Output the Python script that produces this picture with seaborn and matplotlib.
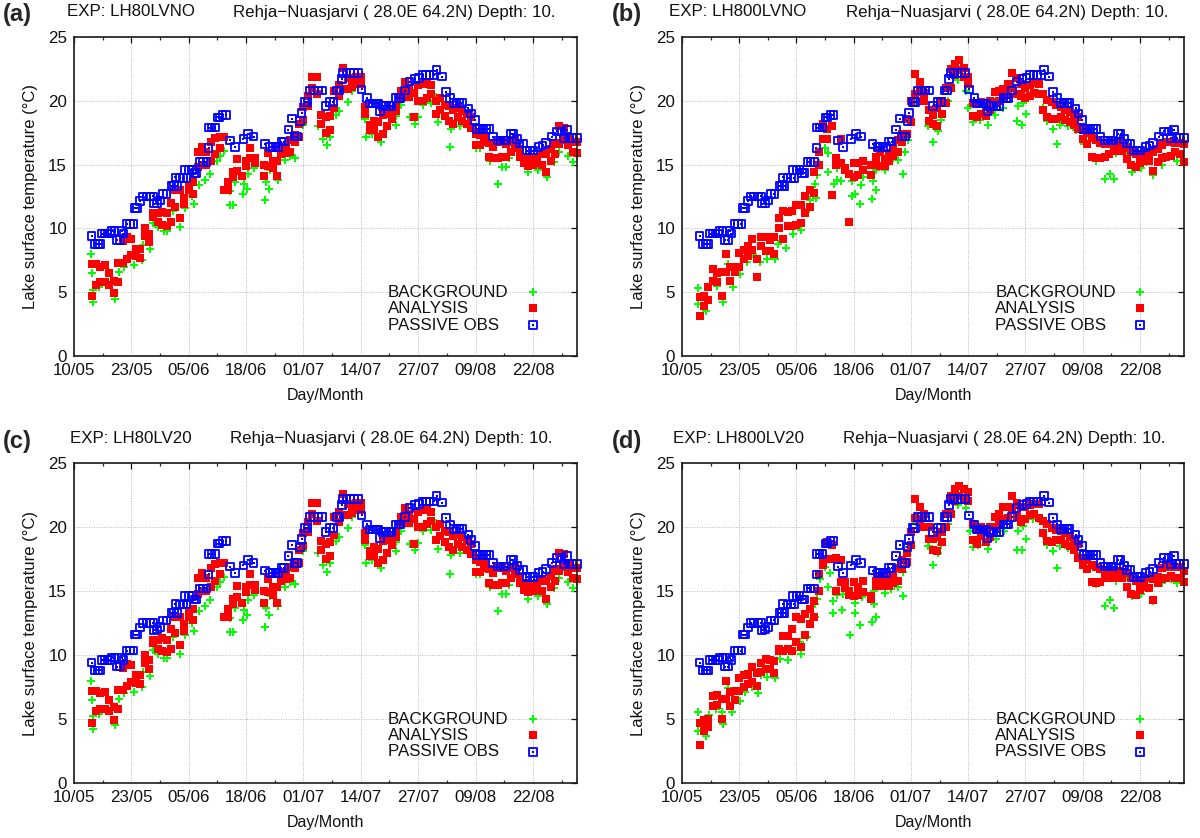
import numpy as np
import pandas as pd
import matplotlib
matplotlib.use("Agg")
import matplotlib.pyplot as plt
import seaborn as sns

nan = float("nan")

# x axis is days since 10/05
tick_labels = ["10/05", "23/05", "05/06", "18/06", "01/07", "14/07", "27/07", "09/08", "22/08"]
days = list(range(4, 115))

# passive observations, same in all panels
obs_days = [4.0, 4.8, 5.4, 5.9, 6.3, 6.9, 7.6, 8.2, 8.5, 9.2, 9.7, 10.4, 10.8, 11.2, 11.9, 12.7, 13.5,
            13.8, 14.3, 15.0, 15.7, 16.4, 17.2, 18.0, 18.1, 18.8, 19.5, 20.2, 21.0, 22.1, 22.7, 23.0, 23.3,
            24.0, 24.8, 25.2, 25.5, 26.0, 26.7, 27.3, 27.8, 28.5, 29.2, 30.0, 30.5, 30.6, 31.2, 31.9, 32.6,
            33.0, 33.7, 34.4, 35.4, 36.5, 38.4, 39.5, 40.7, 43.3, 44.4, 45.0, 45.7, 46.3, 47.0, 47.6, 48.6,
            49.4, 50.0, 50.6, 51.2, 51.6, 52.4, 52.9, 53.5, 54.4, 55.3, 56.2, 57.0, 58.0, 58.8, 59.6, 60.2,
            60.7, 61.0, 61.8, 62.6, 63.4, 64.3, 65.2, 66.4, 67.0, 67.7, 68.4, 69.0, 69.4, 70.0, 70.7, 71.4,
            72.0, 73.0, 73.6, 74.0, 75.0, 76.0, 77.3, 78.2, 79.0, 79.8, 80.6, 81.5, 82.2, 83.4, 84.3, 85.2,
            86.0, 86.7, 87.4, 88.0, 89.4, 90.0, 90.9, 91.3, 92.0, 92.7, 93.4, 94.0, 95.0, 96.0, 96.7, 97.4,
            98.0, 99.0, 99.6, 100.4, 101.0, 101.7, 102.6, 103.3, 104.0, 105.3, 106.2, 107.0, 108.3, 109.5,
            110.5, 111.0, 111.7, 112.3, 113.0, 114.0]
obs_temp = [9.4, 8.8, 8.8, 8.8, 9.6, 9.6, 9.6, 9.6, 9.8, 9.8, 9.1, 9.1, 9.8, 9.6, 10.35, 10.35, 10.35,
            11.6, 11.6, 12.15, 12.5, 12.5, 12.5, 12.5, 11.95, 12.0, 12.2, 12.7, 12.7, 13.3, 13.3, 14.0, 13.3,
            13.95, 13.95, 14.6, 13.95, 14.6, 14.6, 14.35, 14.35, 15.2, 15.2, 15.2, 16.3, 17.9, 17.9, 17.9, 18.7,
            18.7, 18.9, 18.9, 16.9, 16.4, 17.0, 17.4, 17.2, 16.6, 16.4, 16.4, 16.4, 16.4, 16.8, 16.8, 17.75,
            18.6, 17.2, 17.2, 18.4, 19.05, 19.9, 19.9, 20.8, 20.8, 20.8, 20.8, 19.6, 19.9, 19.9, 20.8, 20.8,
            21.7, 22.2, 22.2, 22.2, 22.2, 22.2, 20.9, 20.2, 19.8, 19.8, 19.8, 19.8, 19.15, 19.6, 19.6, 19.6,
            19.6, 20.2, 20.2, 20.2, 20.8, 21.5, 21.7, 21.8, 22.0, 22.0, 22.0, 22.0, 22.4, 21.9, 20.7, 20.2,
            19.85, 19.85, 19.85, 19.85, 19.4, 19.0, 18.5, 17.8, 17.8, 17.8, 17.8, 17.8, 17.2, 16.9, 16.9, 16.9,
            16.9, 17.4, 17.4, 17.0, 16.65, 16.65, 16.1, 16.1, 16.1, 16.4, 16.5, 16.7, 17.2, 17.6,
            17.6, 17.1, 17.75, 17.1, 17.1, 17.1]

# analysis, upper and lower reading per day, LH80 runs (a, c)
ana_lh80_hi = [7.2, 7.2, 7.0, 7.1, 6.5, 5.9, 7.3, 9.0, 9.3, 9.2,
               8.4, 8.4, 10.0, 9.6, 11.2, 11.2, 11.3, 11.2, 12.0, 13.0,
               13.0, 12.4, 13.4, 13.6, 16.0, 16.4, 16.0, 16.8, 17.1, 17.2,
               17.2, 13.6, 14.4, 15.4, 14.1, 15.3, 16.3, 15.5, nan, 15.0,
               15.9, 15.3, 15.3, 16.2, 16.4, 16.9, 17.3, 18.2, 19.5, 20.4,
               21.9, 21.9, 18.9, 18.7, 18.8, 20.8, 21.2, 22.6, 21.8, 21.7,
               21.9, 21.9, 19.5, 18.1, 18.4, 18.3, 18.9, 19.0, 19.2, 19.6,
               20.8, 21.5, 21.0, 20.6, 21.2, 21.3, 21.3, 21.2, 20.0, 20.2,
               19.7, 19.6, 19.3, 19.4, 19.2, 19.0, 18.7, 17.4, 17.3, 17.2,
               16.7, 16.4, 16.8, 16.9, 16.6, 16.8, 16.9, 16.2, 15.6, 15.5,
               15.5, 15.6, 15.8, 15.8, 16.2, 16.7, 18.0, 17.9, 17.2, 16.8, 16.8]
ana_lh80_lo = [4.7, 5.6, 5.8, 5.8, 5.6, 4.9, 5.8, 7.3, 7.6, 7.9,
               7.8, 7.7, 9.4, 8.9, 10.9, 10.5, 10.3, 10.2, 10.5, 11.7,
               10.8, 11.9, 13.0, 12.7, 14.8, 15.0, 15.0, 15.3, 15.8, 16.3,
               13.0, 13.0, 14.0, 14.5, 14.1, 14.9, 15.5, 15.1, nan, 14.1,
               14.9, 14.7, 14.1, 15.8, 15.9, 16.0, 16.8, 17.2, 18.5, 19.6,
               21.0, 20.5, 18.2, 17.5, 17.7, 19.4, 20.4, 20.9, 20.9, 21.1,
               21.3, 21.3, 19.0, 17.7, 17.7, 17.2, 17.4, 18.0, 18.6, 19.2,
               20.3, 20.7, 20.3, 18.7, 20.0, 20.0, 20.2, 20.5, 19.0, 19.3,
               18.8, 18.4, 18.2, 18.7, 18.4, 18.2, 17.9, 16.5, 16.5, 16.8,
               15.6, 15.5, 15.5, 15.6, 15.6, 16.0, 16.3, 15.6, 15.1, 14.9,
               15.0, 15.1, 15.0, 14.4, 15.3, 15.8, 16.6, 16.9, 16.5, 16.0, 15.9]

# analysis, panel b
ana_b_hi = [4.6, 4.7, 5.4, 6.8, 6.5, 6.6, 8.0, 7.0, 7.0, 8.1,
            8.3, 8.6, 9.2, 7.6, 9.3, 9.3, 9.1, 9.3, 10.8, 11.4,
            11.3, 11.4, 11.8, 11.8, 12.5, 13.0, 14.4, 16.0, 18.2, 17.8,
            18.0, 15.5, 17.0, 14.7, 14.3, 15.1, 15.1, 15.3, nan, 15.0,
            15.6, 16.0, 15.4, 15.9, 16.3, 16.9, 17.4, 18.6, 20.0, 22.1,
            21.5, 20.6, 19.3, 18.9, 19.4, 20.0, 21.0, 22.5, 22.9, 23.2,
            22.6, 21.9, 19.8, 19.8, 19.9, 19.5, 20.0, 20.7, 20.8, 20.9,
            21.3, 22.2, 21.8, 21.3, 21.0, 21.2, 21.4, 21.3, 20.5, 20.1,
            19.9, 19.7, 19.5, 19.3, 19.1, 18.9, 18.7, 17.7, 17.5, 17.1,
            16.9, 16.7, 16.6, 16.6, 16.7, 16.7, 16.7, 16.3, 16.0, 15.8,
            15.7, 15.7, 15.9, 16.0, 16.2, 16.5, 16.8, 16.8, 16.7, 16.7, 16.6]
ana_b_lo = [3.1, 3.9, 4.4, 5.9, 5.8, 4.7, 6.6, 5.9, 6.6, 7.0,
            7.6, 7.8, 8.3, 6.2, 8.6, 8.2, 8.2, 8.0, 10.0, 9.2,
            10.2, 10.2, 10.3, 10.4, 11.2, 11.7, 12.8, 15.0, 17.0, 17.0,
            12.6, 15.0, 15.1, 14.6, 10.5, 14.0, 14.2, 14.6, nan, 14.2,
            15.0, 14.9, 14.9, 15.3, 15.7, 16.0, 16.8, 17.4, 18.3, 20.5,
            20.7, 20.0, 18.4, 18.2, 18.0, 19.0, 19.8, 21.0, 22.0, 22.4,
            21.9, 21.3, 18.8, 18.7, 19.0, 18.8, 19.3, 19.9, 20.0, 20.2,
            20.5, 21.0, 20.5, 20.4, 20.2, 20.4, 20.6, 20.5, 19.3, 18.7,
            18.6, 18.6, 18.7, 18.5, 18.3, 18.1, 17.8, 17.0, 16.6, 15.6,
            15.5, 15.5, 15.6, 15.8, 16.1, 16.1, 16.1, 15.4, 15.0, 14.8,
            15.1, 15.3, 15.3, 14.5, 15.2, 15.5, 15.6, 15.7, 16.0, 15.8, 15.2]

# analysis, panel d
ana_d_hi = [4.7, 4.9, 5.0, 6.8, 6.9, 6.6, 8.0, 7.1, 7.2, 8.2,
            8.4, 8.5, 9.1, 8.6, 9.4, 9.7, 9.6, 9.5, 10.5, 11.5,
            11.5, 12.0, 13.0, 12.8, 13.2, 13.6, 14.2, 16.3, 17.2, 18.8,
            18.6, 17.6, 17.4, 15.7, 15.0, 15.7, 15.3, 15.8, nan, 14.6,
            15.8, 16.0, 16.0, 16.1, 16.2, 16.8, 17.4, 18.0, 19.6, 22.2,
            21.6, 21.0, 20.0, 19.1, 19.2, 19.6, 21.0, 22.4, 23.0, 23.2,
            23.0, 22.7, 20.2, 19.8, 20.0, 19.7, 20.0, 20.8, 21.0, 21.6,
            21.6, 22.4, 21.9, 21.6, 21.6, 21.7, 21.8, 21.8, 20.5, 20.2,
            19.9, 19.8, 19.7, 19.5, 19.2, 18.9, 18.7, 17.6, 17.4, 17.0,
            16.9, 16.7, 16.6, 16.5, 16.5, 16.6, 16.5, 16.4, 16.0, 15.8,
            15.6, 15.8, 16.0, 15.9, 16.1, 16.8, 16.9, 16.9, 16.9, 16.9, 16.6]
ana_d_lo = [3.0, 4.1, 4.4, 6.0, 6.1, 5.0, 6.6, 6.0, 6.5, 7.2,
            7.5, 7.7, 7.9, 7.6, 8.7, 8.9, 8.9, 8.6, 10.3, 10.3,
            10.5, 10.3, 11.0, 10.6, 11.6, 12.4, 13.0, 15.0, 17.0, 17.5,
            17.5, 15.0, 15.7, 15.2, 14.7, 14.6, 14.7, 14.9, nan, 14.4,
            15.4, 15.4, 15.4, 15.4, 15.6, 15.8, 16.7, 17.3, 18.6, 20.7,
            20.6, 20.0, 19.1, 18.2, 18.1, 18.8, 20.0, 21.0, 22.0, 22.4,
            22.2, 22.0, 19.0, 18.7, 19.3, 18.8, 19.2, 20.0, 20.2, 20.6,
            20.7, 21.4, 20.8, 20.4, 20.6, 20.9, 21.0, 20.7, 19.5, 18.9,
            18.8, 19.0, 19.0, 18.7, 18.5, 18.2, 17.6, 17.0, 16.7, 15.7,
            15.6, 15.7, 16.0, 16.0, 16.0, 16.1, 16.0, 15.3, 14.8, 14.7,
            15.1, 15.3, 15.2, 14.3, 15.6, 15.9, 16.0, 16.2, 16.0, 16.0, 15.7]

# background, LH80 runs (a, c)
bg_lh80_days = [3.8, 4.0, 4.4, 4.4, 5.7, 9.3, 10.3, 11.3, 13.5, 15.3, 15.7, 17.2, 18.0, 19.0, 20.3, 21.0, 22.5, 24.0,
                25.2, 26.7, 27.2, 28.3, 29.7, 30.8, 32.4, 33.0, 33.9, 35.4, 35.4, 36.1, 36.5, 38.2, 38.5, 39.2, 39.5,
                40.7, 43.3, 43.5, 44.3, 44.4, 46.2, 47.8, 49.0, 50.1, 50.5, 52.0, 53.1, 55.4, 56.4, 57.3, 58.0, 59.4,
                60.0, 62.0, 63.0, 66.0, 66.2, 67.5, 69.6, 71.0, 72.9, 73.0, 74.2, 76.2, 77.3, 77.9, 79.2, 80.9, 82.0,
                82.6, 85.3, 85.4, 87.5, 91.0, 92.0, 94.3, 96.0, 97.0, 98.0, 98.6, 103.0, 105.2, 107.2, 108.7, 109.9,
                112.0, 113.0, 114.0]
bg_lh80_temp = [8.0, 6.5, 5.2, 4.2, 5.4, 4.5, 6.6, 7.0, 7.1, 7.5, 8.7, 8.35, 10.4, 10.1, 9.8, 9.8, 11.4, 10.1,
                11.6, 12.5, 11.9, 13.4, 13.8, 14.3, 15.3, 15.7, 16.1, 12.9, 11.8, 11.8, 13.65, 12.7, 13.5, 13.1, 14.3,
                14.7, 12.2, 13.65, 13.1, 14.6, 13.8, 15.35, 15.7, 15.55, 16.9, 18.1, 19.9, 18.0, 17.0, 16.5, 17.2, 18.9,
                19.2, 19.9, 20.8, 18.6, 17.2, 17.4, 16.8, 18.0, 18.1, 18.8, 19.7, 18.7, 18.2, 18.75, 19.7, 19.8, 20.3,
                18.3, 16.35, 17.8, 18.0, 16.3, 16.3, 15.3, 13.45, 14.8, 14.8, 15.5, 14.4, 14.6, 14.0, 15.2, 16.0,
                15.7, 15.2, 15.7]

# background, panel b
bg_b_days = [3.7, 3.7, 5.4, 8.0, 9.4, 10.5, 11.6, 13.2, 14.7, 16.2, 17.7, 19.2, 21.2, 21.8, 23.7, 25.2, 27.1, 28.1,
             29.0, 30.4, 30.2, 30.6, 31.0, 32.5, 33.2, 33.2, 34.5, 35.1, 36.2, 35.2, 38.5, 39.2, 38.7, 40.4, 40.6,
             41.2, 43.2, 43.3, 44.1, 44.1, 46.0, 47.9, 49.0, 50.2, 50.6, 51.3, 53.2, 55.9, 57.1, 58.1, 56.9, 58.9,
             60.4, 62.6, 64.5, 65.0, 66.0, 67.6, 69.5, 71.0, 73.0, 76.0, 77.2, 76.3, 78.2, 77.4, 79.7, 80.8, 81.9,
             82.8, 84.2, 85.1, 85.8, 87.6, 89.5, 91.4, 94.0, 96.1, 97.1, 98.2, 98.6, 100.9, 102.1, 104.2, 105.4,
             107.0, 109.1, 111.0, 112.5, 114.0]
bg_b_temp = [5.3, 4.1, 3.5, 5.5, 4.25, 7.2, 5.4, 6.4, 7.4, 8.0, 7.4, 7.6, 7.6, 8.8, 8.45, 9.6, 9.9, 11.3,
             12.2, 12.35, 13.5, 14.2, 15.1, 16.3, 15.9, 14.4, 13.5, 13.8, 13.7, 14.7, 12.5, 12.7, 13.7, 11.9, 13.4,
             14.0, 12.3, 13.7, 13.0, 14.6, 14.6, 15.5, 15.35, 14.3, 16.0, 16.9, 20.0, 18.0, 16.8, 17.65, 18.0, 18.5,
             20.0, 21.6, 20.8, 19.4, 18.3, 18.5, 18.1, 18.9, 19.4, 18.4, 18.1, 19.6, 19.0, 19.8, 20.4, 20.6, 19.4,
             18.4, 17.8, 16.6, 18.1, 18.0, 17.7, 16.65, 15.3, 13.9, 14.3, 13.9, 15.9, 16.1, 14.4, 14.75, 15.2,
             14.2, 15.0, 15.7, 15.3, 15.1]

# background, panel d
bg_d_days = [3.7, 3.7, 5.4, 6.2, 7.7, 9.4, 9.0, 10.5, 11.4, 13.2, 14.3, 15.8, 17.3, 17.9, 19.4, 21.2, 22.2, 24.0,
             25.1, 27.1, 26.7, 28.3, 29.0, 30.3, 30.2, 30.6, 31.4, 32.5, 33.2, 33.6, 34.3, 34.2, 35.2, 36.4, 36.6,
             38.2, 39.2, 39.4, 40.4, 40.8, 43.2, 44.1, 43.5, 43.7, 46.0, 47.5, 49.0, 50.2, 50.3, 51.3, 53.2, 55.9,
             56.2, 57.1, 57.6, 58.1, 58.9, 60.4, 62.6, 64.5, 65.3, 66.0, 67.3, 69.5, 71.4, 73.2, 76.0, 77.2, 76.3,
             78.2, 77.5, 79.7, 80.8, 81.9, 82.8, 84.2, 85.1, 85.8, 87.6, 89.5, 91.4, 94.0, 96.1, 97.1, 98.2, 98.6,
             100.9, 102.1, 104.2, 105.4, 107.0, 109.1, 111.0, 112.5, 114.0]
bg_d_temp = [5.55, 4.1, 3.7, 5.3, 5.75, 4.6, 5.55, 7.4, 5.55, 6.4, 7.1, 7.5, 7.0, 8.4, 8.3, 8.2, 9.7, 9.6,
             10.3, 10.1, 11.0, 11.4, 12.6, 13.0, 14.0, 14.4, 15.9, 16.9, 15.35, 16.4, 14.2, 13.3, 14.7, 13.5, 14.75,
             11.6, 13.3, 14.1, 12.35, 14.5, 12.6, 13.0, 14.0, 15.0, 14.85, 15.15, 15.35, 14.6, 16.5, 18.4, 20.4, 18.5,
             18.5, 17.0, 18.1, 18.0, 18.6, 20.2, 21.75, 21.5, 19.7, 18.4, 18.6, 18.3, 19.1, 19.7, 18.2, 18.2, 19.7,
             19.1, 20.05, 20.6, 20.6, 19.4, 18.6, 18.1, 16.8, 18.5, 18.35, 18.0, 16.8, 15.55, 13.85, 14.3, 13.7, 15.75,
             16.1, 14.6, 14.8, 15.35, 14.2, 15.6, 15.9, 15.6, 15.6]

panel_letters = ["(a)", "(b)", "(c)", "(d)"]
exp_names = ["LH80LVNO", "LH800LVNO", "LH80LV20", "LH800LV20"]
site = "Rehja\u2212Nuasjarvi ( 28.0E 64.2N) Depth: 10."
legend_names = ["BACKGROUND", "ANALYSIS", "PASSIVE OBS"]

series = [
    (bg_lh80_days, bg_lh80_temp, ana_lh80_hi, ana_lh80_lo),
    (bg_b_days, bg_b_temp, ana_b_hi, ana_b_lo),
    (bg_lh80_days, bg_lh80_temp, ana_lh80_hi, ana_lh80_lo),
    (bg_d_days, bg_d_temp, ana_d_hi, ana_d_lo),
]

GREEN = "#00ff00"
RED = "#ff0000"
BLUE = "#0000ff"
W, H = 1200, 838

sns.set_theme(style="white")
plt.rcParams["font.family"] = ["Liberation Sans", "DejaVu Sans"]
plt.rcParams["axes.unicode_minus"] = True

# left, top, right, bottom of each panel and title x positions, in pixels
boxes = [(74, 37, 577, 356), (682, 37, 1184, 356), (74, 463, 577, 783), (682, 463, 1184, 783)]
letter_x = [3, 612, 3, 612]
exp_x = [67, 669, 70, 673]
site_x = [233, 846, 230, 843]
title_y = [12, 12, 438, 438]


def draw_bg(ax, d, t, **kw):
    sns.scatterplot(x=d, y=t, ax=ax, marker="P", s=38, color=GREEN, linewidth=0, clip_on=False, legend=False, **kw)


def draw_ana(ax, d, t, **kw):
    sns.scatterplot(x=d, y=t, ax=ax, marker="s", s=30, color=RED, linewidth=0, clip_on=False, legend=False, **kw)


def draw_obs(ax, d, t, **kw):
    sns.scatterplot(x=d, y=t, ax=ax, marker="s", s=30, facecolor="none", edgecolor=BLUE, linewidth=1.3,
                    clip_on=False, legend=False, **kw)
    sns.scatterplot(x=d, y=t, ax=ax, marker="s", s=1.5, color=BLUE, linewidth=0, clip_on=False, legend=False, **kw)


fig = plt.figure(figsize=(W / 100, H / 100), dpi=100)

for i, box in enumerate(boxes):
    left, top, right, bottom = box
    ax = fig.add_axes([left / W, 1 - bottom / H, (right - left) / W, (bottom - top) / H])
    bg_days, bg_temp, ana_hi, ana_lo = series[i]

    draw_bg(ax, bg_days, bg_temp)
    ana = pd.DataFrame({"day": days + days, "temp": ana_lo + ana_hi}).dropna()
    draw_ana(ax, ana["day"].tolist(), ana["temp"].tolist())
    draw_obs(ax, obs_days, obs_temp)

    ax.set_xlim(0, 114)
    ax.set_ylim(0, 25)
    ax.set_xticks(np.arange(len(tick_labels)) * 13)
    ax.set_xticklabels(tick_labels)
    ax.set_xticks(np.arange(len(tick_labels)) * 13 + 6.5, minor=True)
    ax.set_yticks([0, 5, 10, 15, 20, 25])
    ax.tick_params(axis="both", which="major", direction="in", top=True, right=True, length=4, width=0.9,
                   labelsize=12.2, colors="#111111", pad=5)
    ax.tick_params(axis="x", which="minor", direction="in", top=True, bottom=True, length=2.5, width=0.9)
    ax.grid(True, which="major", linestyle=(0, (1, 1.5)), linewidth=0.7, color="#b8b8b8")
    ax.set_axisbelow(True)
    for sp in ax.spines.values():
        sp.set_linewidth(1.2)
        sp.set_color("#1a1a1a")
    ax.set_xlabel("Day/Month", fontsize=11.5, color="#111111", labelpad=7)
    ax.set_ylabel("Lake surface temperature (\u00b0C)", fontsize=12, color="#111111", labelpad=7)

    # gnuplot style key: names on the left, symbols on the right
    for k, name in enumerate(legend_names):
        y = [0.2, 0.149, 0.097][k]
        ax.text(0.624, y, name, transform=ax.transAxes, fontsize=12.2, va="center", ha="left", color="#111111")
    draw_bg(ax, [0.9125], [0.2], transform=ax.transAxes)
    draw_ana(ax, [0.9125], [0.149], transform=ax.transAxes)
    draw_obs(ax, [0.9125], [0.097], transform=ax.transAxes)

    fig.text(letter_x[i] / W, 1 - (title_y[i] + 3) / H, panel_letters[i], fontsize=17, fontweight="bold", va="center")
    fig.text(exp_x[i] / W, 1 - title_y[i] / H, "EXP: " + exp_names[i], fontsize=12.2, va="center", color="#111111")
    fig.text(site_x[i] / W, 1 - title_y[i] / H, site, fontsize=12.2, va="center", color="#111111")

fig.savefig("out.png", dpi=100)
